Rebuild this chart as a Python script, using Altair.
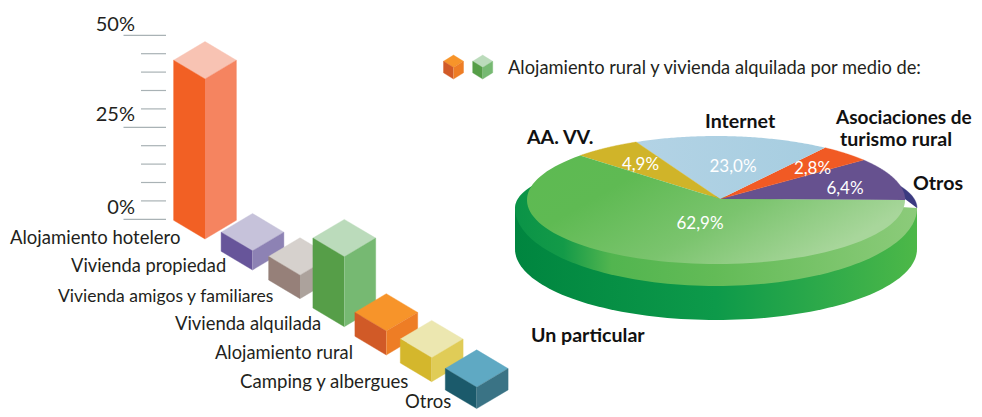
import math
import altair as alt
import pandas as pd

# ---- data ----
bar_labels = ["Alojamiento hotelero", "Vivienda propiedad", "Vivienda amigos y familiares",
              "Vivienda alquilada", "Alojamiento rural", "Camping y albergues", "Otros"]
bar_values = [43.5, 5.2, 6.4, 19.0, 6.5, 6.5, 5.8]
axis_ticks = [0, 5, 10, 15, 20, 25, 30, 35, 40, 45, 50]
axis_labels = ["0%", "25%", "50%"]

pie_names = ["Otros", "Asociaciones de turismo rural", "Internet", "AA. VV.", "Un particular"]
pie_shares = ["6,4%", "2,8%", "23,0%", "4,9%", "62,9%"]
# wedge edges as drawn in the tilted picture (degrees around the ellipse)
pie_edges = [0, 38.7, 54.8, 115, 136, 360]

title_text = "Alojamiento rural y vivienda alquilada por medio de:"

# ---- layout (picture geometry) ----
bar_base_x = [205, 252.5, 300, 344.3, 386.3, 431.7, 476.7]
bar_base_y = [239, 270, 298.7, 326.7, 355, 381.7, 408.6]
bar_faces = [("#f8c3b3", "#f26024", "#f58460"), ("#c6c2da", "#67559a", "#8d82b4"),
             ("#d6d1cd", "#968079", "#aca29c"), ("#bbdbbb", "#569e48", "#76b972"),
             ("#f7942a", "#d15a27", "#ee7d25"), ("#ece7b0", "#d4b72c", "#e0cc57"),
             ("#5fa9c3", "#1b5a6b", "#3a7385")]
HW, HD = 31.4, 18.7
Y0, PX_PER_PCT = 219.3, 3.68
FONT = "Lato"
INK = "#231f20"

xs = alt.Scale(domain=[8, 974], range=[0, 966], nice=False, zero=False)
ys = alt.Scale(domain=[8, 409], range=[0, 401], nice=False, zero=False)
layers = []


def poly(points, fill):
    df = pd.DataFrame({"x": [p[0] for p in points], "y": [p[1] for p in points],
                       "i": list(range(len(points)))})
    kw = {"stroke": fill, "strokeWidth": 0.4} if isinstance(fill, str) else {"strokeWidth": 0}
    layers.append(alt.Chart(df).mark_line(fill=fill, interpolate="linear", **kw).encode(
        x=alt.X("x:Q", scale=xs, axis=None),
        y=alt.Y("y:Q", scale=ys, axis=None),
        order="i:Q"))


def prism(cx, by, hw, hd, h, faces):
    top, left, right = faces
    ft = by - h
    poly([(cx, ft), (cx - hw, ft - hd), (cx, ft - 2 * hd), (cx + hw, ft - hd)], top)
    poly([(cx, by), (cx - hw, by - hd), (cx - hw, ft - hd), (cx, ft)], left)
    poly([(cx, by), (cx + hw, by - hd), (cx + hw, ft - hd), (cx, ft)], right)


def label(text, x, y, size, color=INK, align="left", weight="normal"):
    df = pd.DataFrame({"x": [x], "y": [y], "t": [text]})
    layers.append(alt.Chart(df).mark_text(align=align, baseline="alphabetic", font=FONT,
                                          fontSize=size, fontWeight=weight, color=color).encode(
        x=alt.X("x:Q", scale=xs, axis=None), y=alt.Y("y:Q", scale=ys, axis=None), text="t:N"))


def grad(stops, x2=1, y2=0):
    return alt.Gradient(gradient="linear", x1=0, y1=0, x2=x2, y2=y2,
                        stops=[alt.GradientStop(offset=o, color=c) for o, c in stops])


# ---- axis ----
tick_df = pd.DataFrame({"v": axis_ticks})
tick_df["y"] = Y0 - tick_df["v"] * PX_PER_PCT
tick_df["x1"] = [123.5 if v % 25 == 0 else 141 for v in axis_ticks]
tick_df["x2"] = 166
layers.append(alt.Chart(tick_df).mark_rule(color="#a9b2b5", strokeWidth=1.2).encode(
    x=alt.X("x1:Q", scale=xs, axis=None), x2="x2:Q", y=alt.Y("y:Q", scale=ys, axis=None)))
for t, y in zip(axis_labels, [214, 121, 30.5]):
    label(t, 135, y, 20, align="right")

# ---- bars ----
for lab, v, bx, by, f in zip(bar_labels, bar_values, bar_base_x, bar_base_y, bar_faces):
    prism(bx, by, HW, HD, v * PX_PER_PCT, f)

for t, x, y, s in zip(bar_labels, [10, 71, 58, 175, 215, 240, 405],
                      [244, 272, 302, 330, 359, 388, 408],
                      [18.5, 18.3, 17.5, 18.4, 18.3, 18.6, 18.5]):
    label(t, x, y, s)

# ---- legend ----
prism(453.5, 79, 10, 6.2, 11.5, bar_faces[4])
prism(482.7, 79, 10, 6.2, 11.5, bar_faces[3])
label(title_text, 508, 74, 18.3)

# ---- pie ----
CX, RX = 716, 201
RIM_Y, RIM_RY, RIM_UP = 208, 78, 55
WALL_Y, WALL_RY = 249, 71
TX, TY, TRX, TRY = 716, 200, 189, 64
AX, AY = 720, 199


def arc(cx, cy, rx, ry, a0, a1, n=90):
    return [(cx + rx * math.cos(math.radians(a0 + (a1 - a0) * k / n)),
             cy - ry * math.sin(math.radians(a0 + (a1 - a0) * k / n))) for k in range(n + 1)]


wall = [(CX + RX, RIM_Y)] + arc(CX, WALL_Y, RX, WALL_RY, 0, -180) + [(CX - RX, RIM_Y)]
poly(wall, grad([(0, "#00853f"), (0.5, "#0d9a4a"), (0.75, "#2ca94a"), (1, "#4db848")]))

rim = arc(CX, RIM_Y, RX, RIM_RY, 0, -180) + arc(CX, RIM_Y, RX, RIM_UP, 180, 155)
poly(rim, grad([(0, "#0a9347"), (0.12, "#139a48"), (0.24, "#52b54f"), (0.5, "#63bb57"), (1, "#8ccb7a")]))
poly(arc(CX, RIM_Y, RX, RIM_UP, 0, 25) + [(TX + TRX, AY)], "#3b3a80")

pie_fills = ["#66518f", "#f15a24",
             grad([(0, "#b3d3e5"), (1, "#a6cde0")]),
             "#d0b429",
             grad([(0, "#5dba52"), (0.3, "#5fba53"), (0.65, "#7bc46e"), (1, "#a8d69b")], x2=1, y2=0.5)]
for a0, a1, f in zip(pie_edges[:-1], pie_edges[1:], pie_fills):
    poly([(AX, AY)] + arc(TX, TY, TRX, TRY, a0, a1), f)

for t, x, y in zip(pie_shares, [845, 812.5, 733, 640.5, 700], [194, 174, 172, 170, 229]):
    label(t, x, y, 17, color="white", align="center")

for t, x, y, s in [("AA. VV.", 527, 144, 19.6), ("Internet", 705, 128, 19.6),
                   ("Asociaciones de", 836, 124, 19), ("turismo rural", 840, 146, 19.6),
                   ("Otros", 913, 190, 19.6), ("Un particular", 531, 342, 19.6)]:
    label(t, x, y, s, color="#111111", weight="bold")

chart = alt.layer(*layers).properties(width=966, height=401, padding=0,
                                      background="white").configure_view(stroke=None)
chart.save("out.html", embed_options={"renderer": "svg", "actions": False})
